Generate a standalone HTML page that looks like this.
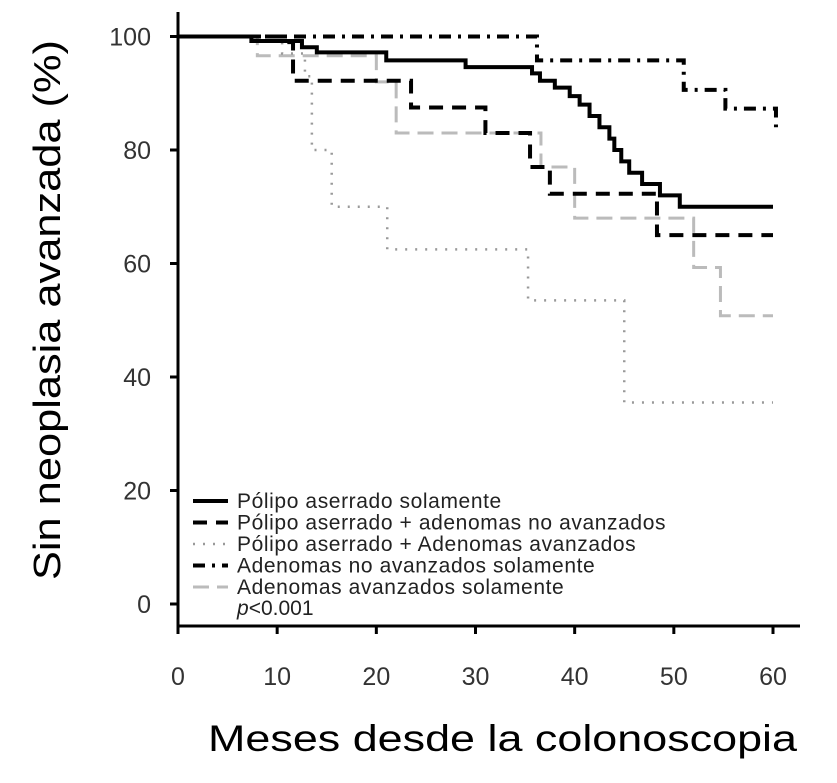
<!DOCTYPE html>
<html><head><meta charset="utf-8"><style>
body{margin:0;background:#fff;}
svg{display:block;font-family:"Liberation Sans",sans-serif;}
</style></head><body>
<svg id="chart" width="837" height="783"></svg>
<script>
const xTicks=[0,10,20,30,40,50,60];
const yTicks=[0,20,40,60,80,100];
const legendLabels=["Pólipo aserrado solamente","Pólipo aserrado + adenomas no avanzados","Pólipo aserrado + Adenomas avanzados","Adenomas no avanzados solamente","Adenomas avanzados solamente"];
const sSolidT=[0,7.4,12.5,14,21,29,35.7,36.5,38,39.5,40.5,41.5,42.5,43.5,44,44.7,45.5,46.8,48.6,50.6,60];
const sSolidV=[100,99.2,98.1,97.2,95.8,94.6,93.5,92.2,91,89.5,88,86,84,82,80,78,76,74,72,70,70];
const sDashT=[0,10.8,11.6,23.5,31,35.5,37.5,48.3,60];
const sDashV=[100,99,92.2,87.5,83,77,72.3,65,65];
const sDotT=[0,10.5,12.8,13.5,15.5,21.1,35.3,45,60];
const sDotV=[100,97,93,80,70,62.5,53.5,35.5,35.5];
const sDashDotT=[0,36.2,51,55.2,60.3];
const sDashDotV=[100,95.8,90.6,87.3,84];
const sGreyT=[0,8,20,22,36.6,40,52,54.7,60];
const sGreyV=[100,96.6,92,83,77,68,59.3,50.8,50.8];

const svg=document.getElementById('chart');
const NS='http://www.w3.org/2000/svg';
const X0=178,X1=773,Y0=604,Y1=36.5;
const xs=v=>X0+(X1-X0)*v/60;
const ys=v=>Y0-(Y0-Y1)*v/100;
function mk(tag,attrs,parent){const e=document.createElementNS(NS,tag);for(const k in attrs)e.setAttribute(k,attrs[k]);(parent||svg).appendChild(e);return e;}

const yAxis=mk('line',{x1:178,y1:12,x2:178,y2:626,stroke:'#000','stroke-width':3});


const xAxis=mk('line',{x1:177,y1:626,x2:800,y2:626,stroke:'#000','stroke-width':3});



yTicks.forEach(v=>{
  const t=mk('line',{x1:170,y1:ys(v),x2:178,y2:ys(v),stroke:'#000','stroke-width':3});
  
  
  const l=mk('text',{x:151,y:ys(v)+9,'text-anchor':'end','font-size':25,fill:'#333'});
  l.textContent=v;
  
  
});
xTicks.forEach(v=>{
  const t=mk('line',{x1:xs(v),y1:626,x2:xs(v),y2:634,stroke:'#000','stroke-width':3});
  
  
  const l=mk('text',{x:xs(v),y:685,'text-anchor':'middle','font-size':25,fill:'#333'});
  l.textContent=v;
  
  
});

const styles=[
 {stroke:'#000',w:4,dash:''},
 {stroke:'#000',w:4,dash:'14,9'},
 {stroke:'#999',w:2.5,dash:'2,8'},
 {stroke:'#000',w:4,dash:'12,7,3,7'},
 {stroke:'#bbb',w:3,dash:'16,8'}
];
const series=[[sSolidT,sSolidV],[sDashT,sDashV],[sDotT,sDotV],[sDashDotT,sDashDotV],[sGreyT,sGreyV]];
const names=['curve-serrated-only','curve-serrated-nonadvanced','curve-serrated-advanced','curve-nonadvanced-only','curve-advanced-only'];
[4,2,1,3,0].forEach(i=>{
  const [T,V]=series[i];
  let d='M'+xs(T[0])+','+ys(V[0]);
  for(let k=1;k<T.length;k++){d+=' L'+xs(T[k])+','+ys(V[k-1])+' L'+xs(T[k])+','+ys(V[k]);}
  const p=mk('path',{d:d,fill:'none',stroke:styles[i].stroke,'stroke-width':styles[i].w,'stroke-dasharray':styles[i].dash});
  
  
});

legendLabels.forEach((lab,i)=>{
  const y=501+i*21.5;
  const s=mk('line',{x1:193,y1:y,x2:228,y2:y,stroke:styles[i].stroke,'stroke-width':styles[i].w,'stroke-dasharray':styles[i].dash});
  
  
  const t=mk('text',{x:237,y:y+7,'font-size':21,fill:'#222','letter-spacing':'0.6'});
  t.textContent=lab;
  
  
});
const p=mk('text',{x:237,y:615,'font-size':21,fill:'#222'});
p.innerHTML='<tspan font-style="italic">p</tspan>&lt;0.001';



const yt=mk('text',{x:0,y:0,transform:'translate(60,310) rotate(-90)','text-anchor':'middle','font-size':38,fill:'#000',textLength:540,lengthAdjust:'spacingAndGlyphs'});
yt.textContent='Sin neoplasia avanzada (%)';


const xt=mk('text',{x:208,y:751,'font-size':37,fill:'#000',textLength:589,lengthAdjust:'spacingAndGlyphs'});
xt.textContent='Meses desde la colonoscopia';


</script>
</body></html>
